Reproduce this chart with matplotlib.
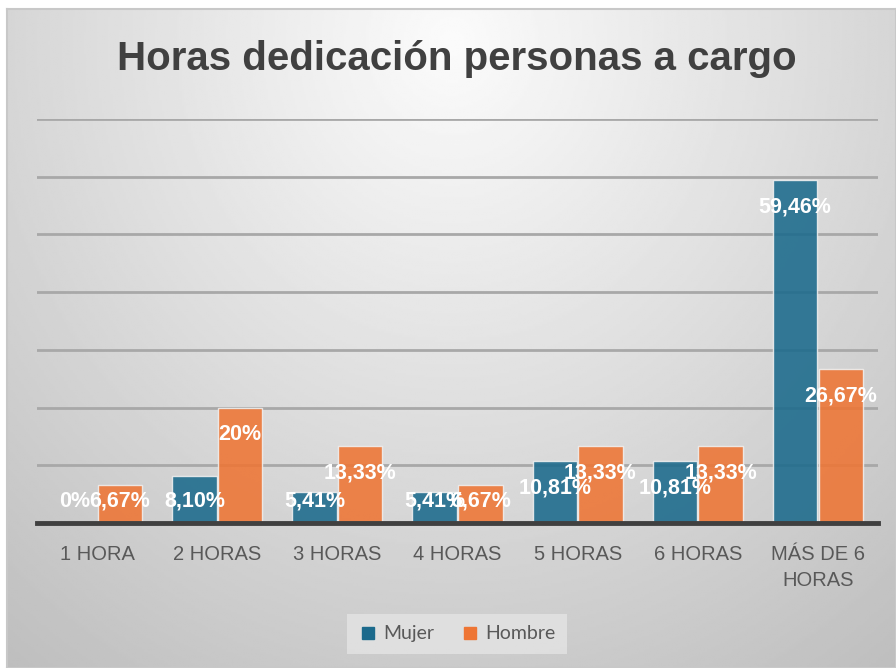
import matplotlib.pyplot as plt
import numpy as np
from matplotlib.lines import Line2D

# %% data
categorias = ['1 HORA', '2 HORAS', '3 HORAS', '4 HORAS', '5 HORAS', '6 HORAS', 'MÁS DE 6\nHORAS']
mujer = [0, 8.10, 5.41, 5.41, 10.81, 10.81, 59.46]
hombre = [6.67, 20, 13.33, 6.67, 13.33, 13.33, 26.67]
etiq_mujer = ['0%', '8,10%', '5,41%', '5,41%', '10,81%', '10,81%', '59,46%']
etiq_hombre = ['6,67%', '20%', '13,33%', '6,67%', '13,33%', '13,33%', '26,67%']

azul = '#1b6a8c'
naranja = '#ee7534'

# %% figure + gradient background
fig = plt.figure(figsize=(8.96, 6.68), dpi=100)
fig.patch.set_facecolor('white')

bg = fig.add_axes([7/896, 0, 889/896, 659/668])
yy, xx = np.mgrid[0:1:300j, 0:1:400j]
r = np.sqrt(((xx - 0.5) / 0.75) ** 2 + ((yy - 0.05) / 1.1) ** 2)
bg.imshow(0.985 - 0.22 * r, cmap='gray', vmin=0, vmax=1, aspect='auto',
          extent=[0, 1, 1, 0])
bg.set_xticks([])
bg.set_yticks([])
for s in bg.spines.values():
    s.set_color('#c8c8c8')
    s.set_linewidth(1.5)

# %% bars
ax = fig.add_axes([37/896, 145/668, 841/896, 404/668])
ax.patch.set_alpha(0)
x = np.arange(len(categorias))
w = 0.37
off = 0.19
ax.bar(x - off, mujer, w, color=azul, alpha=0.88, edgecolor='#f0f0f0', linewidth=1, zorder=2)
ax.bar(x + off, hombre, w, color=naranja, alpha=0.88, edgecolor='#f0f0f0', linewidth=1, zorder=2)

lab_font = dict(color='white', fontsize=15.5, fontweight='bold', family='Liberation Sans',
                ha='center', va='center', zorder=4)
for i in range(len(categorias)):
    ax.text(x[i] - off, max(mujer[i] - 4.7, 3.8), etiq_mujer[i], **lab_font)
    ax.text(x[i] + off, max(hombre[i] - 4.7, 3.8), etiq_hombre[i], **lab_font)

ax.set_xlim(-0.5, len(categorias) - 0.5)
ax.set_ylim(0, 70)
ax.set_yticks(np.arange(10, 71, 10))
ax.yaxis.grid(True, color='#a8a8a8', linewidth=2, zorder=0)
ax.set_axisbelow(True)
ax.tick_params(axis='y', left=False, labelleft=False)
ax.tick_params(axis='x', length=0, pad=16)
ax.set_xticks(x)
ax.set_xticklabels(categorias, fontsize=14.5, color='#595959', family='Liberation Sans',
                   linespacing=1.45)
for s in ['top', 'right', 'left']:
    ax.spines[s].set_visible(False)
ax.spines['bottom'].set_color('#404040')
ax.spines['bottom'].set_linewidth(3.5)
ax.spines['bottom'].set_zorder(3)

# %% title + legend
fig.text(0.51, 0.912, 'Horas dedicación personas a cargo', ha='center', va='center',
         fontsize=29, fontweight='bold', color='#404040', family='Liberation Sans')

handles = [Line2D([], [], marker='s', ls='', color=azul, markersize=9),
           Line2D([], [], marker='s', ls='', color=naranja, markersize=9)]
leg = fig.legend(handles, ['Mujer', 'Hombre'], loc='center', bbox_to_anchor=(0.51, 0.051),
                 ncol=2, frameon=True, handletextpad=0.3, columnspacing=1.3,
                 handlelength=1.0, borderpad=0.6, fancybox=False,
                 prop={'family': 'Lato', 'size': 14})
leg.get_frame().set_facecolor('#e4e4e4')
leg.get_frame().set_edgecolor('none')
for t in leg.get_texts():
    t.set_color('#595959')

fig.savefig('out.png', dpi=100)
